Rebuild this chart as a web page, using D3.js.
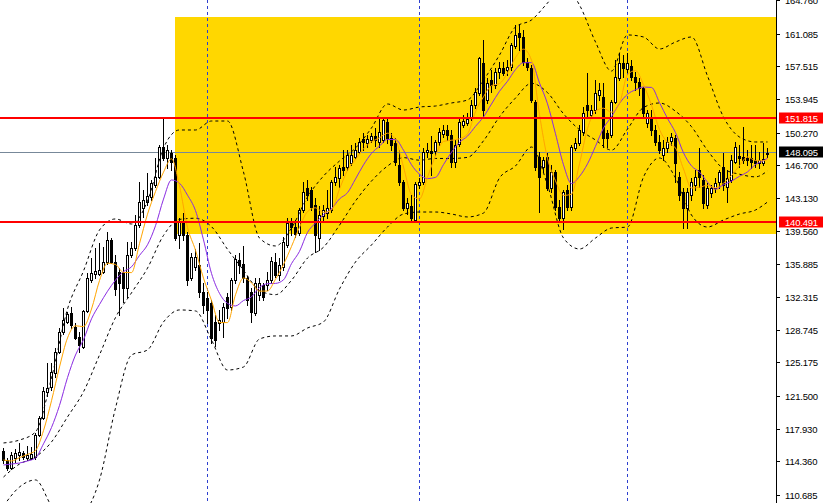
<!DOCTYPE html>
<html><head><meta charset="utf-8">
<script src="https://cdn.jsdelivr.net/npm/d3@7/dist/d3.min.js"></script>
<style>html,body{margin:0;padding:0;background:#fff;overflow:hidden}</style>
</head><body>
<svg id="chart" width="825" height="503"></svg>
<script>
// ---- OHLC data (one candle per bar, oldest first) ----
const open=[115.49,114.51,113.64,114.73,115.06,115.27,114.73,114.73,114.84,117.24,
119.10,121.94,122.48,124.01,126.31,128.49,129.59,130.57,129.04,127.95,
126.85,130.79,134.17,134.83,134.83,135.05,136.14,138.54,136.14,135.05,
134.94,133.30,136.90,137.67,140.18,142.04,142.69,143.24,144.55,145.42,
148.70,147.50,148.05,147.50,139.09,140.51,139.09,134.39,135.59,135.81,
132.86,132.21,131.66,129.59,129.48,129.59,132.32,131.22,134.17,136.36,
135.92,134.39,132.86,130.57,132.53,133.63,133.63,134.17,136.14,134.72,
135.59,138.00,140.51,139.96,139.31,141.82,144.22,144.00,142.37,138.76,
141.16,141.49,141.82,144.88,145.32,146.52,146.52,146.95,147.61,148.16,
149.58,149.14,149.47,149.90,149.25,149.47,151.43,149.68,149.14,146.74,
144.88,142.04,142.26,140.73,144.55,144.88,148.16,148.26,148.26,149.25,
150.12,150.56,150.01,147.06,149.03,151.11,151.32,151.87,153.29,154.60,
157.88,153.84,156.02,155.47,156.89,157.33,157.11,157.44,159.73,161.15,
160.72,157.99,157.33,153.62,147.61,146.52,147.61,144.22,145.97,142.15,
140.95,144.00,142.15,148.59,149.14,150.34,153.29,152.20,152.74,154.38,
154.16,150.23,150.01,153.62,156.24,157.88,157.22,157.55,156.35,155.80,
155.15,151.32,151.98,150.56,149.25,147.83,148.59,149.36,149.68,145.42,
143.79,142.04,143.46,144.55,146.19,145.10,142.37,143.68,144.22,144.88,
146.52,144.33,145.10,147.06,147.72,147.61,147.50,147.50,147.28,146.95,
146.95,147.94];
const high=[115.82,114.73,115.38,115.71,116.37,115.49,116.04,115.93,117.46,119.32,
122.48,125.11,125.11,126.74,128.93,131.11,130.68,131.22,129.48,128.49,
130.90,134.94,136.58,137.67,138.21,137.78,139.42,138.76,136.90,135.48,
135.59,138.32,138.32,141.27,144.88,144.00,145.86,145.10,147.50,148.92,
151.87,148.92,148.37,147.83,140.95,141.49,139.42,137.12,137.56,138.21,
133.85,132.86,131.99,130.35,130.90,131.66,132.75,134.39,136.90,137.12,
137.89,134.61,133.30,134.39,134.39,133.85,135.05,136.69,137.12,136.58,
138.87,140.95,140.95,140.73,142.04,144.88,145.10,144.33,143.13,142.26,
142.37,144.00,145.10,146.52,146.74,148.37,148.37,148.92,149.14,149.68,
150.23,150.01,150.23,150.78,151.87,151.98,151.87,150.23,149.68,148.37,
145.10,143.13,143.46,144.88,145.32,148.59,149.14,149.90,149.47,150.78,
151.11,151.11,150.56,149.47,151.98,152.20,152.42,153.84,155.15,158.53,
160.39,156.24,157.11,157.33,157.99,157.99,158.21,160.06,162.03,162.14,
161.48,158.42,157.66,153.84,148.16,147.61,148.05,146.74,146.19,142.91,
144.00,144.55,148.92,149.68,151.11,153.07,156.79,153.29,156.02,155.69,
155.69,150.56,153.84,158.21,158.97,158.75,158.97,158.21,156.89,156.24,
155.26,152.74,152.74,151.11,150.01,149.47,149.79,150.23,150.01,145.97,
144.22,144.22,145.32,146.19,148.59,145.64,144.77,144.55,145.32,146.19,
148.05,146.19,147.83,149.25,148.92,150.89,148.37,148.92,148.92,148.16,
149.14,148.59];
const low=[114.18,113.42,113.53,114.29,114.51,114.62,114.51,114.62,114.62,117.13,
118.99,121.50,122.16,123.58,126.20,128.27,129.48,128.93,127.73,126.31,
126.74,130.68,133.95,134.39,134.72,134.94,135.92,136.03,132.53,130.35,
131.77,132.32,136.69,137.45,139.96,141.06,142.37,142.91,144.33,145.32,
147.28,146.41,146.19,138.54,137.67,138.54,133.63,134.17,135.27,132.32,
130.57,129.48,127.29,126.96,128.71,127.95,130.02,130.90,133.85,134.94,
133.95,131.44,129.59,130.35,131.99,131.99,133.08,133.85,134.50,134.17,
135.27,137.78,139.09,138.87,139.09,141.60,142.91,141.82,137.23,137.45,
140.51,140.95,141.60,144.55,144.33,145.64,146.19,146.74,147.50,148.05,
148.37,148.70,149.25,148.81,148.70,149.25,149.14,148.37,146.74,144.55,
141.82,141.38,140.73,140.51,144.22,144.66,147.61,145.64,147.83,148.92,
149.79,149.47,146.52,146.52,148.81,150.89,151.11,151.65,152.96,154.38,
151.98,153.51,154.71,155.15,156.24,156.57,156.57,157.11,159.52,159.30,
157.66,157.11,153.62,146.19,141.60,145.97,144.00,143.79,141.82,140.51,
139.74,141.82,141.82,148.37,148.92,150.01,151.98,151.87,152.42,153.84,
148.70,148.70,149.79,153.51,156.02,156.35,156.89,156.02,154.93,154.38,
151.98,150.89,150.01,148.92,148.05,147.28,148.16,148.92,144.88,142.91,
139.85,139.85,142.91,144.00,144.33,142.04,142.04,143.24,143.79,144.22,
144.00,142.69,144.88,146.95,146.52,146.95,146.74,146.41,146.52,146.41,
146.74,147.61];
const close=[114.51,113.64,115.06,115.27,115.38,114.84,115.06,115.17,117.24,119.10,
122.05,122.37,124.12,126.31,128.49,129.80,130.46,129.26,127.84,127.07,
130.79,134.39,134.94,135.16,135.27,136.14,138.54,136.14,133.19,133.85,
133.30,136.90,137.67,140.18,142.69,142.91,143.35,144.77,145.42,148.70,
147.50,148.37,147.06,138.76,140.51,139.09,134.17,136.69,136.69,132.86,
131.44,130.90,127.84,127.62,129.80,131.22,131.11,134.17,136.47,135.81,
134.39,131.99,130.68,133.85,133.85,132.32,134.17,136.25,134.72,135.81,
138.32,140.40,139.96,139.20,141.82,143.79,143.46,142.15,139.09,141.27,
141.82,142.04,144.88,145.42,146.41,146.19,147.83,147.83,148.37,149.25,
149.25,149.58,149.90,149.47,150.34,151.65,149.68,148.92,147.06,144.88,
142.04,142.58,140.95,144.66,144.88,148.16,148.37,148.05,149.25,150.34,
150.56,150.01,147.06,148.92,151.43,151.54,151.76,153.29,154.71,158.42,
152.74,155.69,155.47,156.89,157.33,156.79,157.44,159.84,160.94,160.72,
157.99,157.44,153.84,146.52,145.42,147.28,144.22,145.97,142.15,140.95,
143.79,142.15,148.70,149.14,150.56,152.42,152.74,152.74,154.60,154.93,
149.68,149.68,153.62,156.35,157.88,157.33,157.88,156.35,155.80,155.15,
152.42,152.42,150.56,149.25,148.37,148.59,149.25,149.79,146.95,143.46,
142.04,143.79,144.88,145.42,145.42,142.58,144.22,144.22,144.77,145.97,
144.55,145.32,147.28,148.70,147.50,147.28,147.28,147.06,146.95,147.28,
147.39,148.095];

// ---- moving averages, read at every second bar ----
const maBars=[0,2,4,6,8,10,12,14,16,18,20,22,24,26,28,30,32,34,36,38,40,42,44,46,48,50,52,54,56,58,
60,62,64,66,68,70,72,74,76,78,80,82,84,86,88,90,92,94,96,98,100,102,104,106,108,110,112,114,116,118,
120,122,124,126,128,130,132,134,136,138,140,142,144,146,148,150,152,154,156,158,160,162,164,166,168,170,
172,174,176,178,180,182,184,186,188,190,191];
const maFast=[114.51,114.40,114.77,115.12,115.54,117.72,120.98,124.67,127.84,129.17,
129.08,131.00,134.11,136.01,135.86,135.00,134.98,138.15,141.36,143.83,
145.95,147.41,144.44,139.92,137.43,134.37,131.94,129.52,129.52,132.56,
134.39,133.87,132.95,132.97,134.26,135.86,137.84,139.94,141.64,142.06,
141.56,141.82,144.11,146.15,147.33,148.51,149.27,149.71,150.21,149.53,
146.52,143.50,143.02,145.40,147.74,149.31,149.44,149.60,150.14,152.55,
154.19,155.41,155.63,156.79,158.47,159.39,158.18,152.24,147.46,145.01,
143.41,143.55,146.87,150.71,152.61,152.94,152.50,153.44,156.61,157.05,
155.52,153.27,150.60,149.20,148.59,146.30,144.22,144.31,144.51,144.24,
144.75,145.58,146.67,147.61,147.22,147.19,147.35];
const maSlow=[113.96,114.07,114.18,114.40,114.73,116.28,118.06,120.47,123.51,125.98,
127.65,129.93,131.50,132.94,134.16,135.09,135.61,136.86,138.02,140.10,
143.01,145.10,144.74,143.44,141.75,138.56,134.89,132.71,131.62,131.34,
131.93,132.33,133.35,133.77,133.80,134.19,135.96,137.30,139.37,140.40,
141.30,141.95,143.03,143.71,145.21,146.75,148.00,148.80,149.53,149.51,
148.35,146.76,145.73,145.25,145.38,146.78,148.13,149.22,149.89,150.96,
151.99,153.40,154.79,155.88,157.16,157.91,157.92,155.69,153.42,150.15,
146.76,144.71,145.49,146.86,148.78,150.77,152.01,153.46,154.47,154.95,
155.25,155.21,153.55,151.82,150.27,148.07,146.64,145.96,144.86,144.08,
144.58,144.98,145.51,145.98,146.79,147.21,147.48];

// ---- Bollinger bands, read at every fourth bar ----
const bbBars=[0,4,8,12,16,20,24,28,32,36,40,44,48,52,56,60,64,68,72,76,80,84,88,92,96,100,
104,108,112,116,120,124,128,132,136,140,144,148,152,156,160,164,168,172,176,180,184,188,191];
const bbMid=[112.65,114.07,114.84,116.48,119.21,121.96,125.98,130.07,132.77,135.47,
139.04,140.79,140.92,140.00,137.53,135.24,133.03,132.57,134.14,136.57,
137.75,140.16,142.80,144.98,146.62,147.54,147.26,147.45,147.45,147.57,
149.38,152.00,154.05,155.66,154.64,152.33,150.59,149.47,148.36,150.66,
153.01,153.51,152.61,150.92,148.33,146.32,145.73,145.44,146.10];
const bbUpper=[116.37,116.69,117.57,123.47,131.00,135.16,139.63,140.84,140.29,142.80,
148.59,150.56,150.56,151.54,151.54,145.97,138.76,137.89,139.85,143.24,
145.53,147.17,148.59,150.78,153.40,152.74,153.07,153.18,153.51,153.84,
156.02,158.75,161.81,162.58,164.43,166.40,164.21,160.17,157.00,160.94,
160.72,159.41,160.17,160.72,156.46,151.98,149.79,149.25,149.25];
const bbLower=[109.48,111.56,112.33,109.48,107.41,108.50,112.33,120.19,125.98,126.53,
129.59,130.90,130.79,127.62,124.34,124.67,127.73,128.06,128.06,128.93,
129.59,133.19,136.14,138.00,139.96,141.38,141.60,141.60,141.38,141.06,
141.49,145.32,146.63,148.70,144.55,138.76,137.56,138.76,139.85,139.96,
145.42,147.50,145.32,141.27,139.96,140.73,141.38,141.82,142.69];

// ---- objects on the chart ----
const hLevels=[151.815,140.491];
const bidPrice=148.095;
const zoneStartBar=43, zoneTop=162.90, zoneBottom=139.20;
const separatorBars=[51,104,156];
const tickValues=[164.760,161.085,157.515,153.945,150.270,146.700,143.130,139.560,135.885,132.315,128.745,125.175,121.500,117.930,114.360,110.685];

// ---- drawing ----
const W=825,H=503,plotRight=776;
const svg=d3.select('#chart');
const bars=open.map((o,i)=>({i,o,h:high[i],l:low[i],c:close[i]}));
const x=d3.scaleBand().domain(bars.map(d=>d.i)).range([1.5,1.5+4*bars.length]).padding(0);
const cx=i=>x(i)+x.bandwidth()/2;
const y=d3.scaleLinear().domain([110.685,164.76]).range([495,0]);

svg.append('defs').append('clipPath').attr('id','plot')
  .append('rect').attr('x',0).attr('y',0).attr('width',plotRight).attr('height',H);
const g=svg.append('g').attr('clip-path','url(#plot)');

// yellow zone
g.append('rect').attr('x',Math.floor(cx(zoneStartBar))).attr('y',Math.round(y(zoneTop)))
  .attr('width',plotRight-Math.floor(cx(zoneStartBar))).attr('height',Math.round(y(zoneBottom))-Math.round(y(zoneTop)))
  .attr('fill','#FFD700');

// period separators
g.selectAll('.sep').data(separatorBars).join('line')
  .attr('x1',d=>cx(d)).attr('x2',d=>cx(d)).attr('y1',0).attr('y2',H)
  .attr('stroke','#2d3fcf').attr('stroke-width',1).attr('stroke-dasharray','3,3');

// bid line
g.append('line').attr('x1',0).attr('x2',plotRight)
  .attr('y1',Math.floor(y(bidPrice))+0.5).attr('y2',Math.floor(y(bidPrice))+0.5)
  .attr('stroke','#778899').attr('stroke-width',1);

// candles
const cg=g.append('g');
bars.forEach(d=>{
  const c=cx(d.i);
  const yh=Math.round(y(d.h)), yl=Math.round(y(d.l));
  cg.append('rect').attr('x',c-0.5).attr('y',yh).attr('width',1).attr('height',Math.max(1,yl-yh+1)).attr('fill','#000');
  const top=Math.round(y(Math.max(d.o,d.c))), bot=Math.round(y(Math.min(d.o,d.c)));
  cg.append('rect').attr('x',c-1.5).attr('y',top).attr('width',3).attr('height',bot-top+1).attr('fill','#000');
  if(d.c>=d.o && bot-top>=2){
    cg.append('rect').attr('x',c-0.5).attr('y',top+1).attr('width',1).attr('height',bot-top-1).attr('fill','#fff');
  }
});

// Bollinger bands (dashed)
const bbLine=d3.line().x(d=>cx(d[0])).y(d=>y(d[1])).curve(d3.curveMonotoneX);
[bbUpper,bbMid,bbLower].forEach(arr=>{
  g.append('path').attr('d',bbLine(bbBars.map((b,k)=>[b,arr[k]])))
    .attr('fill','none').attr('stroke','#000').attr('stroke-width',1).attr('stroke-dasharray','3,3');
});

// moving averages
const maLine=d3.line().x(d=>cx(d[0])).y(d=>y(d[1])).curve(d3.curveMonotoneX);
g.append('path').attr('d',maLine(maBars.map((b,k)=>[b,maSlow[k]])))
  .attr('fill','none').attr('stroke','#8A2BE2').attr('stroke-width',1);
g.append('path').attr('d',maLine(maBars.map((b,k)=>[b,maFast[k]])))
  .attr('fill','none').attr('stroke','#FFA500').attr('stroke-width',1);

// red horizontal levels
g.selectAll('.lvl').data(hLevels).join('line')
  .attr('x1',0).attr('x2',plotRight)
  .attr('y1',d=>Math.floor(y(d))).attr('y2',d=>Math.floor(y(d)))
  .attr('stroke','#FF0000').attr('stroke-width',2);

// right price axis
svg.append('line').attr('x1',plotRight+0.5).attr('x2',plotRight+0.5).attr('y1',0).attr('y2',H)
  .attr('stroke','#000').attr('stroke-width',1);
const ax=svg.append('g');
tickValues.forEach(v=>{
  const yy=Math.round(y(v))+0.5;
  ax.append('line').attr('x1',plotRight+1).attr('x2',plotRight+4).attr('y1',yy).attr('y2',yy).attr('stroke','#000');
  ax.append('text').attr('x',785).attr('y',yy).attr('dominant-baseline','central')
    .attr('font-family','Liberation Sans, Arial, sans-serif').attr('font-size','9.5px')
    .attr('letter-spacing','-0.2px').attr('fill','#000').text(d3.format('.3f')(v));
});
function tag(v,bg){
  const yy=Math.floor(y(v));
  ax.append('rect').attr('x',779).attr('y',yy-5.5).attr('width',44).attr('height',11).attr('fill',bg);
  ax.append('text').attr('x',785).attr('y',yy).attr('dominant-baseline','central')
    .attr('font-family','Liberation Sans, Arial, sans-serif').attr('font-size','9.5px')
    .attr('letter-spacing','-0.2px').attr('fill','#fff').text(d3.format('.3f')(v));
}
hLevels.forEach(v=>tag(v,'#FF0000'));
tag(bidPrice,'#000');
</script>
</body></html>
